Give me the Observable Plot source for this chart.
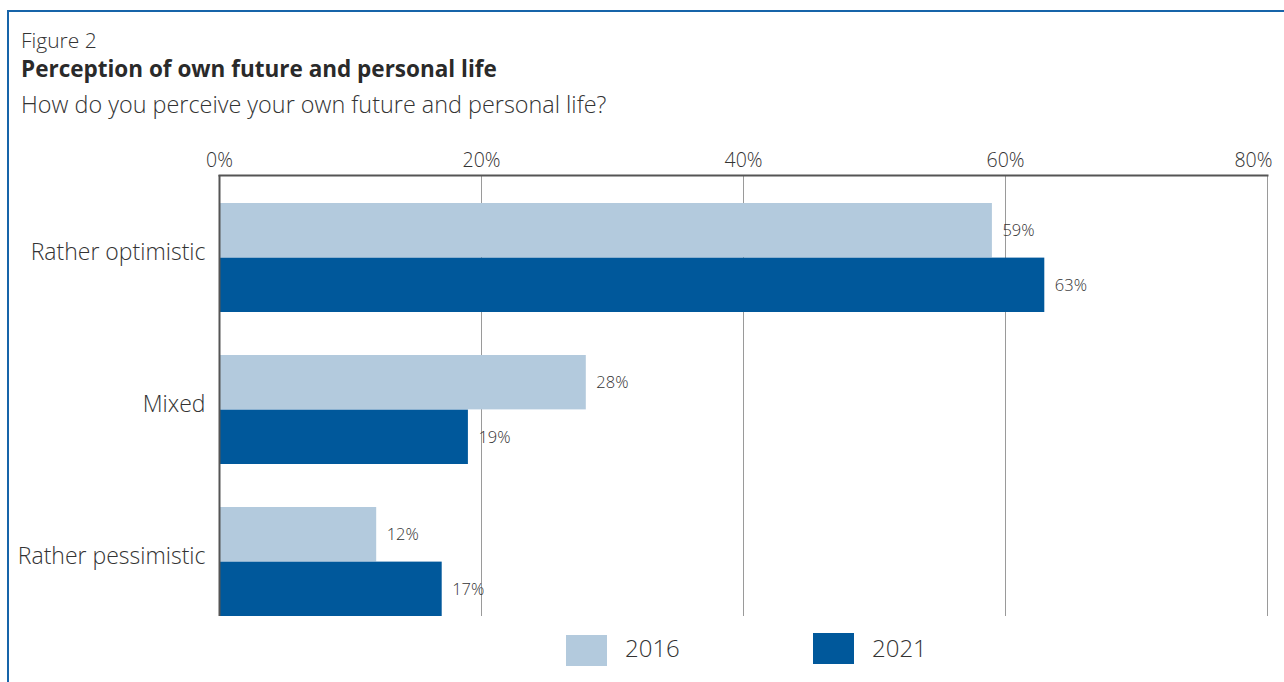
<!DOCTYPE html>
<html>
<head>
<meta charset="utf-8">
<script src="https://cdn.jsdelivr.net/npm/d3@7"></script>
<script src="https://cdn.jsdelivr.net/npm/@observablehq/plot@0.6"></script>
<style>
  html, body { margin: 0; padding: 0; background: #fff; width: 1284px; height: 682px; overflow: hidden; }
  body { position: relative; font-family: "Open Sans", "Noto Sans", sans-serif; color: #333; }
  .frame { position: absolute; left: 7px; top: 10px; width: 1300px; height: 700px;
           border-left: 2px solid #1764a9; border-top: 2px solid #1764a9; box-sizing: border-box; }
  .t { position: absolute; left: 21px; white-space: nowrap; line-height: 1; }
  #chart { position: absolute; left: 0; top: 140px; }
  .sw { position: absolute; width: 41px; height: 31px; }
  .lg { position: absolute; font-size: 24px; line-height: 1; color: #333; }
</style>
</head>
<body>
<div class="frame"></div>
<div class="t" style="top:30px;font-size:21px;font-weight:300;">Figure 2</div>
<div class="t" style="top:58px;font-size:22.5px;font-weight:700;color:#2a2a2a;">Perception of own future and personal life</div>
<div class="t" style="top:93px;font-size:23.4px;font-weight:300;">How do you perceive your own future and personal life?</div>
<div id="chart"></div>
<div class="sw" style="left:566px;top:635px;background:#b3cadd;"></div>
<div class="lg" style="left:625px;top:636px;font-weight:300;">2016</div>
<div class="sw" style="left:813px;top:633px;background:#00589b;"></div>
<div class="lg" style="left:872px;top:636px;font-weight:300;">2021</div>
<script>
const categories = ["Rather optimistic", "Mixed", "Rather pessimistic"];
const years = ["2016", "2021"];
const values2016 = [59, 28, 12];
const values2021 = [63, 19, 17];
const xTicks = [0, 20, 40, 60, 80];
const colors = ["#b3cadd", "#00589b"];

const data = categories.flatMap((c, i) => [
  {cat: c, year: years[0], value: values2016[i]},
  {cat: c, year: years[1], value: values2021[i]}
]);
const d16 = data.filter(d => d.year === years[0]);
const d21 = data.filter(d => d.year === years[1]);

const yTop = 35, yBottom = 476;
const pInner = 0.283, pOuter = 0.089;
const step = (yBottom - yTop) / (categories.length - pInner + 2 * pOuter);
const bw = step * (1 - pInner);
const half = bw / 2;

const chart = Plot.plot({
  width: 1284,
  height: 485,
  marginLeft: 219,
  marginRight: 17,
  marginTop: yTop,
  marginBottom: 485 - yBottom,
  style: {fontFamily: '"Open Sans", "Noto Sans", sans-serif', fontWeight: 300, color: "#333", background: "transparent"},
  x: {domain: [0, 80], axis: null, label: null},
  y: {domain: categories, range: [yTop, yBottom], paddingInner: pInner, paddingOuter: pOuter, align: 1, axis: null, label: null},
  color: {domain: years, range: colors},
  marks: [
    Plot.ruleX(xTicks.slice(1), {stroke: "#9a9a9a", strokeWidth: 1}),
    Plot.barX(d16, {x: "value", y: "cat", fill: "year", insetBottom: half}),
    Plot.barX(d21, {x: "value", y: "cat", fill: "year", insetTop: half}),
    Plot.text(d16, {x: "value", y: "cat", dy: -half / 2, text: d => d.value + "%", textAnchor: "start", dx: 10, fontSize: 16.5, fill: "#333"}),
    Plot.text(d21, {x: "value", y: "cat", dy: half / 2, text: d => d.value + "%", textAnchor: "start", dx: 10, fontSize: 16.5, fill: "#333"}),
    Plot.ruleX([0], {stroke: "#555", strokeWidth: 2}),
    Plot.frame({anchor: "top", stroke: "#555", strokeWidth: 2}),
    Plot.axisX(xTicks.slice(0, -1), {anchor: "top", label: null, tickSize: 0, tickPadding: 9, tickFormat: d => d + "%", fontSize: 19.5}),
    Plot.axisX(xTicks.slice(-1), {anchor: "top", label: null, tickSize: 0, tickPadding: 9, tickFormat: d => d + "%", fontSize: 19.5, textAnchor: "end", dx: 5}),
    Plot.axisY({label: null, tickSize: 0, tickPadding: 14, fontSize: 23, dy: -5})
  ]
});
document.getElementById("chart").appendChild(chart);
</script>
</body>
</html>
